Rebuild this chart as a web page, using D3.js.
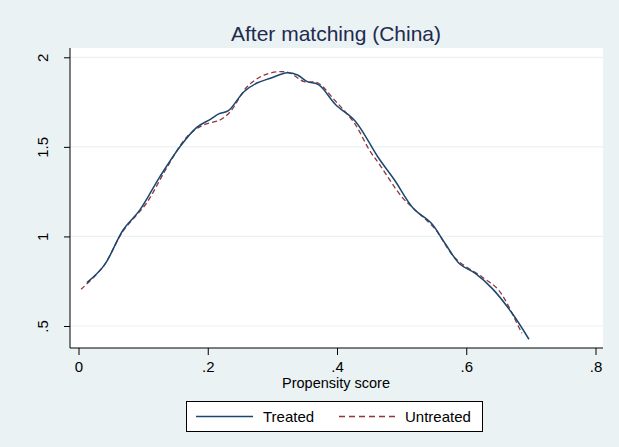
<!DOCTYPE html>
<html>
<head>
<meta charset="utf-8">
<script src="https://cdn.jsdelivr.net/npm/d3@7"></script>
<style>
  body { margin: 0; background: #eaf2f3; }
  svg { display: block; font-family: "Liberation Sans", Arial, sans-serif; }
</style>
</head>
<body>
<div id="chart"></div>
<script>
// density estimates
const treatedX = [0.013, 0.040, 0.069, 0.095, 0.126, 0.157, 0.183, 0.204, 0.217, 0.232, 0.256, 0.277, 0.297, 0.323, 0.339, 0.354, 0.372, 0.398, 0.428, 0.463, 0.489, 0.518, 0.546, 0.567, 0.590, 0.614, 0.640, 0.671, 0.697];
const treatedY = [0.742, 0.840, 1.036, 1.148, 1.334, 1.501, 1.609, 1.654, 1.684, 1.702, 1.808, 1.858, 1.883, 1.914, 1.901, 1.864, 1.846, 1.735, 1.645, 1.445, 1.315, 1.157, 1.073, 0.962, 0.846, 0.794, 0.710, 0.571, 0.426];

const untreatedX = [0.004, 0.038, 0.069, 0.105, 0.136, 0.168, 0.193, 0.219, 0.235, 0.261, 0.287, 0.313, 0.328, 0.349, 0.370, 0.396, 0.427, 0.450, 0.468, 0.500, 0.518, 0.551, 0.583, 0.624, 0.650, 0.681, 0.686];
const untreatedY = [0.705, 0.831, 1.030, 1.185, 1.380, 1.557, 1.622, 1.650, 1.697, 1.836, 1.901, 1.920, 1.911, 1.864, 1.858, 1.762, 1.632, 1.483, 1.390, 1.222, 1.157, 1.045, 0.878, 0.775, 0.701, 0.496, 0.460];

const xTicks = [0, 0.2, 0.4, 0.6, 0.8];
const xTickLabels = ['0', '.2', '.4', '.6', '.8'];
const yTicks = [0.5, 1, 1.5, 2];
const yTickLabels = ['.5', '1', '1.5', '2'];

const width = 619, height = 447;
const plot = { left: 70, right: 603, top: 48, bottom: 348 };

const svg = d3.select('#chart').append('svg')
  .attr('width', width)
  .attr('height', height);

svg.append('rect').attr('width', width).attr('height', height).attr('fill', '#eaf2f3');
svg.append('rect')
  .attr('x', plot.left).attr('y', plot.top)
  .attr('width', plot.right - plot.left).attr('height', plot.bottom - plot.top)
  .attr('fill', '#fff');

const x = d3.scaleLinear().domain([0, 0.8]).range([78.5, 595.5]);
const y = d3.scaleLinear().domain([0.5, 2]).range([326, 57.3]);

// gridlines
svg.append('g')
  .selectAll('line')
  .data(yTicks)
  .join('line')
  .attr('x1', plot.left).attr('x2', plot.right)
  .attr('y1', d => y(d)).attr('y2', d => y(d))
  .attr('stroke', '#eaf2f3').attr('stroke-width', 1.2);

// axes
const yAxis = svg.append('g')
  .attr('transform', `translate(${plot.left},0)`)
  .call(d3.axisLeft(y).tickValues(yTicks).tickSize(6).tickSizeOuter(0)
    .tickFormat((d, i) => yTickLabels[i]));
yAxis.select('.domain').remove();
yAxis.append('line')
  .attr('y1', plot.top).attr('y2', plot.bottom)
  .attr('stroke', '#000');
yAxis.selectAll('.tick text')
  .attr('font-size', 15)
  .attr('fill', '#000')
  .attr('text-anchor', 'middle')
  .attr('x', 0).attr('y', 0).attr('dy', 0)
  .attr('transform', 'translate(-22,0) rotate(-90)');

const xAxis = svg.append('g')
  .attr('transform', `translate(0,${plot.bottom})`)
  .call(d3.axisBottom(x).tickValues(xTicks).tickSize(7).tickPadding(6)
    .tickFormat((d, i) => xTickLabels[i]));
xAxis.select('.domain').remove();
xAxis.append('line')
  .attr('x1', plot.left).attr('x2', plot.right)
  .attr('stroke', '#000');
xAxis.selectAll('.tick text').attr('font-size', 15).attr('fill', '#000');

svg.append('text')
  .attr('x', 336).attr('y', 388)
  .attr('text-anchor', 'middle')
  .attr('font-size', 14.5)
  .text('Propensity score');

svg.append('text')
  .attr('x', 336).attr('y', 41)
  .attr('text-anchor', 'middle')
  .attr('font-size', 21)
  .attr('fill', '#1e2b4f')
  .text('After matching (China)');

// curves
const line = d3.line()
  .x(d => x(d[0]))
  .y(d => y(d[1]))
  .curve(d3.curveCatmullRom.alpha(0.5));

const treated = treatedX.map((v, i) => [v, treatedY[i]]);
const untreated = untreatedX.map((v, i) => [v, untreatedY[i]]);

svg.append('path')
  .datum(untreated)
  .attr('d', line)
  .attr('fill', 'none')
  .attr('stroke', '#90353b')
  .attr('stroke-width', 1.3)
  .attr('stroke-dasharray', '5,3');

svg.append('path')
  .datum(treated)
  .attr('d', line)
  .attr('fill', 'none')
  .attr('stroke', '#1a476f')
  .attr('stroke-width', 1.5);

// legend
const legend = svg.append('g');
legend.append('rect')
  .attr('x', 186.5).attr('y', 401.5)
  .attr('width', 296).attr('height', 30)
  .attr('fill', '#fff').attr('stroke', '#000');

const legendItems = [
  { label: 'Treated', color: '#1a476f', dash: null, x0: 196, x1: 253, tx: 263 },
  { label: 'Untreated', color: '#90353b', dash: '6,4', x0: 339, x1: 396, tx: 405 }
];
legendItems.forEach(it => {
  legend.append('line')
    .attr('x1', it.x0).attr('x2', it.x1)
    .attr('y1', 416.5).attr('y2', 416.5)
    .attr('stroke', it.color).attr('stroke-width', 1.5)
    .attr('stroke-dasharray', it.dash);
  legend.append('text')
    .attr('x', it.tx).attr('y', 422)
    .attr('font-size', 15)
    .text(it.label);
});
</script>
</body>
</html>
